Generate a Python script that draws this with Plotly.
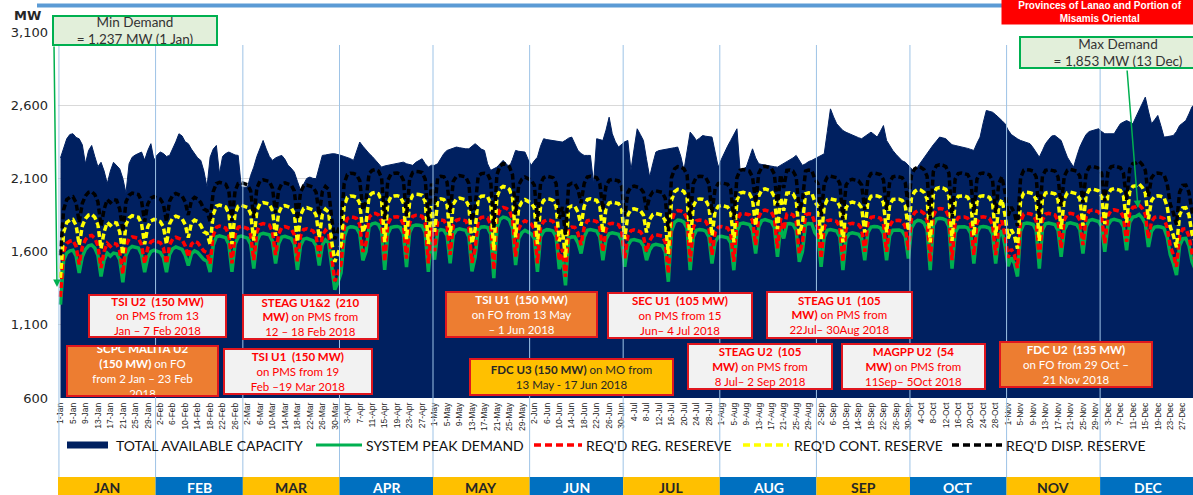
import plotly.graph_objects as go
import pandas as pd

# ---------------- data (daily, 1 Jan 2018 - 31 Dec 2018) ----------------
dates = pd.date_range("2018-01-01", periods=365, freq="D")

total_available_capacity = [
    2240, 2300, 2370, 2400, 2405, 2380, 2370,
    2330, 2200, 2290, 2325, 2250, 2180, 2210,
    2150, 2065, 2150, 2210, 2190, 2165, 2100,
    2000, 2200, 2245, 2260, 2270, 2280, 2225,
    2290, 2337, 2225, 2260, 2280, 2270, 2250,
    2257, 2300, 2350, 2405, 2390, 2350, 2337,
    2300, 2268, 2240, 2223, 2150, 2041, 2245,
    2300, 2325, 2132, 2250, 2270, 2280, 2270,
    2260, 2257, 2041, 2040, 2041, 2120, 2177,
    2250, 2300, 2359, 2300, 2250, 2223, 2240,
    2250, 2257, 2230, 2189, 2170, 2143, 2080,
    2018, 2060, 2100, 2109, 2100, 2098, 2180,
    2257, 2260, 2265, 2268, 2268, 2260, 2257,
    2250, 2245, 2235, 2223, 2280, 2348, 2320,
    2291, 2270, 2250, 2223, 2200, 2177, 2185,
    2189, 2195, 2200, 2205, 2210, 2211, 2200,
    2195, 2189, 2210, 2225, 2234, 2200, 2177,
    2190, 2189, 2200, 2240, 2270, 2291, 2300,
    2310, 2314, 2310, 2305, 2302, 2302, 2320,
    2337, 2320, 2300, 2291, 2200, 2155, 2165,
    2177, 2200, 2223, 2200, 2177, 2230, 2291,
    2285, 2282, 2280, 2230, 2189, 2220, 2245,
    2320, 2371, 2365, 2362, 2359, 2355, 2350,
    2348, 2360, 2375, 2382, 2340, 2291, 2270,
    2257, 2257, 2257, 2064, 2371, 2365, 2359,
    2430, 2518, 2405, 2350, 2314, 2330, 2350,
    2359, 2155, 2300, 2439, 2400, 2359, 2230,
    2109, 2200, 2280, 2290, 2295, 2298, 2302,
    2305, 2310, 2314, 2250, 2155, 2300, 2416,
    2390, 2359, 2375, 2393, 2388, 2385, 2382,
    2280, 2177, 2230, 2280, 2320, 2359, 2400,
    2439, 2155, 2165, 2177, 2240, 2302, 2240,
    2200, 2195, 2190, 2189, 2185, 2180, 2177,
    2190, 2200, 2211, 2225, 2240, 2257, 2220,
    2189, 2200, 2215, 2223, 2234, 2245, 2257,
    2268, 2420, 2575, 2520, 2473, 2450, 2427,
    2415, 2405, 2393, 2385, 2378, 2371, 2385,
    2400, 2416, 2400, 2382, 2420, 2461, 2359,
    2320, 2291, 2265, 2240, 2220, 2211, 2190,
    2165, 2143, 2180, 2211, 2240, 2270, 2302,
    2330, 2355, 2382, 2377, 2371, 2350, 2330,
    2325, 2320, 2317, 2314, 2305, 2298, 2291,
    2340, 2382, 2480, 2564, 2558, 2552, 2535,
    2518, 2495, 2473, 2430, 2400, 2382, 2370,
    2359, 2350, 2345, 2337, 2310, 2280, 2245,
    2290, 2337, 2365, 2390, 2393, 2375, 2359,
    2300, 2245, 2210, 2177, 2250, 2314, 2360,
    2400, 2420, 2427, 2435, 2439, 2420, 2405,
    2405, 2405, 2405, 2440, 2473, 2485, 2495,
    2485, 2473, 2520, 2564, 2610, 2655, 2560,
    2473, 2500, 2530, 2460, 2382, 2385, 2390,
    2393, 2420, 2461, 2478, 2495, 2540, 2590,
    2609,
]

system_peak_demand = [
    1237, 1540, 1590, 1605, 1610, 1570, 1455,
    1565, 1615, 1640, 1645, 1625, 1575, 1430,
    1545, 1590, 1570, 1590, 1585, 1545, 1390,
    1575, 1620, 1635, 1630, 1625, 1580, 1460,
    1560, 1600, 1610, 1605, 1595, 1560, 1460,
    1580, 1620, 1632, 1625, 1615, 1575, 1505,
    1585, 1605, 1595, 1570, 1545, 1535, 1460,
    1645, 1700, 1708, 1702, 1695, 1650, 1462,
    1650, 1700, 1706, 1700, 1692, 1650, 1485,
    1670, 1718, 1725, 1722, 1715, 1670, 1518,
    1655, 1700, 1705, 1700, 1690, 1650, 1475,
    1640, 1685, 1690, 1682, 1675, 1640, 1505,
    1645, 1680, 1660, 1480, 1340, 1390, 1455,
    1700, 1760, 1770, 1768, 1760, 1720, 1540,
    1600, 1770, 1790, 1795, 1785, 1740, 1475,
    1720, 1765, 1770, 1772, 1765, 1722, 1495,
    1730, 1775, 1782, 1780, 1775, 1730, 1462,
    1700, 1545, 1740, 1750, 1746, 1710, 1520,
    1715, 1748, 1755, 1750, 1745, 1700, 1465,
    1560, 1750, 1768, 1770, 1765, 1720, 1418,
    1760, 1820, 1836, 1830, 1815, 1760, 1508,
    1690, 1730, 1745, 1735, 1722, 1690, 1462,
    1700, 1740, 1750, 1748, 1740, 1700, 1480,
    1560, 1370, 1690, 1702, 1700, 1660, 1587,
    1700, 1745, 1750, 1746, 1740, 1700, 1541,
    1685, 1722, 1728, 1725, 1718, 1680, 1496,
    1640, 1677, 1682, 1678, 1670, 1640, 1541,
    1610, 1643, 1650, 1645, 1640, 1600, 1394,
    1740, 1800, 1815, 1812, 1800, 1760, 1473,
    1700, 1745, 1750, 1748, 1740, 1700, 1519,
    1665, 1700, 1705, 1700, 1695, 1660, 1473,
    1740, 1790, 1795, 1792, 1785, 1745, 1587,
    1770, 1812, 1818, 1814, 1805, 1765, 1564,
    1760, 1690, 1790, 1792, 1785, 1745, 1530,
    1600, 1785, 1792, 1790, 1730, 1700, 1496,
    1700, 1745, 1750, 1746, 1740, 1700, 1473,
    1690, 1722, 1728, 1725, 1718, 1690, 1541,
    1730, 1768, 1772, 1770, 1762, 1725, 1541,
    1710, 1746, 1750, 1748, 1740, 1705, 1553,
    1760, 1800, 1814, 1810, 1795, 1750, 1473,
    1780, 1822, 1828, 1825, 1815, 1770, 1484,
    1730, 1768, 1772, 1770, 1762, 1725, 1519,
    1730, 1768, 1772, 1768, 1760, 1720, 1519,
    1700, 1746, 1640, 1500, 1560, 1520, 1430,
    1740, 1790, 1795, 1792, 1785, 1745, 1484,
    1750, 1790, 1795, 1792, 1785, 1745, 1564,
    1750, 1791, 1796, 1792, 1785, 1750, 1587,
    1770, 1812, 1818, 1814, 1805, 1770, 1598,
    1780, 1814, 1820, 1815, 1808, 1770, 1609,
    1800, 1836, 1840, 1853, 1830, 1790, 1632,
    1740, 1768, 1772, 1768, 1760, 1700, 1580,
    1520, 1439, 1640, 1688, 1690, 1640, 1530,
    1480,
]

reqd_reg_reserve = [
    1290, 1598, 1656, 1671, 1676, 1636, 1513,
    1631, 1681, 1706, 1711, 1691, 1641, 1488,
    1603, 1656, 1636, 1656, 1651, 1603, 1448,
    1641, 1686, 1701, 1696, 1691, 1646, 1518,
    1626, 1666, 1676, 1671, 1661, 1626, 1518,
    1646, 1686, 1698, 1691, 1681, 1641, 1563,
    1651, 1671, 1661, 1636, 1603, 1593, 1518,
    1711, 1766, 1774, 1768, 1761, 1716, 1520,
    1716, 1766, 1772, 1766, 1758, 1716, 1543,
    1736, 1784, 1791, 1788, 1781, 1736, 1576,
    1721, 1766, 1771, 1766, 1756, 1716, 1533,
    1706, 1751, 1756, 1748, 1741, 1706, 1563,
    1711, 1746, 1726, 1538, 1398, 1448, 1513,
    1766, 1826, 1836, 1834, 1826, 1786, 1598,
    1658, 1836, 1856, 1861, 1851, 1806, 1533,
    1786, 1831, 1836, 1838, 1831, 1788, 1553,
    1796, 1841, 1848, 1846, 1841, 1796, 1520,
    1766, 1603, 1806, 1816, 1812, 1776, 1578,
    1781, 1814, 1821, 1816, 1811, 1766, 1523,
    1618, 1816, 1834, 1836, 1831, 1786, 1476,
    1826, 1886, 1902, 1896, 1881, 1826, 1566,
    1756, 1796, 1811, 1801, 1788, 1756, 1520,
    1766, 1806, 1816, 1814, 1806, 1766, 1538,
    1618, 1428, 1756, 1768, 1766, 1726, 1645,
    1766, 1811, 1816, 1812, 1806, 1766, 1599,
    1751, 1788, 1794, 1791, 1784, 1746, 1554,
    1706, 1743, 1748, 1744, 1736, 1706, 1599,
    1676, 1709, 1716, 1711, 1706, 1666, 1452,
    1806, 1866, 1881, 1878, 1866, 1826, 1531,
    1766, 1811, 1816, 1814, 1806, 1766, 1577,
    1731, 1766, 1771, 1766, 1761, 1726, 1531,
    1806, 1856, 1861, 1858, 1851, 1811, 1645,
    1836, 1878, 1884, 1880, 1871, 1831, 1622,
    1826, 1748, 1856, 1858, 1851, 1811, 1588,
    1658, 1851, 1858, 1856, 1796, 1766, 1554,
    1766, 1811, 1816, 1812, 1806, 1766, 1531,
    1756, 1788, 1794, 1791, 1784, 1756, 1599,
    1796, 1834, 1838, 1836, 1828, 1791, 1599,
    1776, 1812, 1816, 1814, 1806, 1771, 1611,
    1826, 1866, 1880, 1876, 1861, 1816, 1531,
    1846, 1888, 1894, 1891, 1881, 1836, 1542,
    1796, 1834, 1838, 1836, 1828, 1791, 1577,
    1796, 1834, 1838, 1834, 1826, 1786, 1577,
    1766, 1812, 1706, 1558, 1618, 1578, 1488,
    1806, 1856, 1861, 1858, 1851, 1811, 1542,
    1816, 1856, 1861, 1858, 1851, 1811, 1622,
    1816, 1857, 1862, 1858, 1851, 1816, 1645,
    1836, 1878, 1884, 1880, 1871, 1836, 1656,
    1846, 1880, 1886, 1881, 1874, 1836, 1667,
    1866, 1902, 1906, 1919, 1896, 1856, 1690,
    1806, 1834, 1838, 1834, 1826, 1766, 1638,
    1578, 1497, 1706, 1754, 1756, 1706, 1588,
    1538,
]

reqd_cont_reserve = [
    1420, 1730, 1800, 1815, 1820, 1780, 1645,
    1775, 1825, 1850, 1855, 1835, 1785, 1620,
    1735, 1800, 1780, 1800, 1795, 1735, 1580,
    1785, 1830, 1845, 1840, 1835, 1790, 1650,
    1770, 1810, 1820, 1815, 1805, 1770, 1650,
    1790, 1830, 1842, 1835, 1825, 1785, 1695,
    1795, 1815, 1805, 1780, 1735, 1725, 1650,
    1855, 1910, 1918, 1912, 1905, 1860, 1652,
    1860, 1910, 1916, 1910, 1902, 1860, 1675,
    1880, 1928, 1935, 1932, 1925, 1880, 1708,
    1865, 1910, 1915, 1910, 1900, 1860, 1665,
    1850, 1895, 1900, 1892, 1885, 1850, 1695,
    1855, 1890, 1870, 1670, 1530, 1580, 1645,
    1910, 1970, 1980, 1978, 1970, 1930, 1730,
    1790, 1980, 2000, 2005, 1995, 1950, 1665,
    1930, 1975, 1980, 1982, 1975, 1932, 1685,
    1940, 1985, 1992, 1990, 1985, 1940, 1652,
    1910, 1735, 1950, 1960, 1956, 1920, 1710,
    1925, 1958, 1965, 1960, 1955, 1910, 1655,
    1750, 1960, 1978, 1980, 1975, 1930, 1608,
    1970, 2030, 2046, 2040, 2025, 1970, 1698,
    1900, 1940, 1955, 1945, 1932, 1900, 1652,
    1910, 1950, 1960, 1958, 1950, 1910, 1670,
    1750, 1560, 1900, 1912, 1910, 1870, 1777,
    1910, 1955, 1960, 1956, 1950, 1910, 1731,
    1895, 1932, 1938, 1935, 1928, 1890, 1686,
    1850, 1887, 1892, 1888, 1880, 1850, 1731,
    1820, 1853, 1860, 1855, 1850, 1810, 1584,
    1950, 2010, 2025, 2022, 2010, 1970, 1663,
    1910, 1955, 1960, 1958, 1950, 1910, 1709,
    1875, 1910, 1915, 1910, 1905, 1870, 1663,
    1950, 2000, 2005, 2002, 1995, 1955, 1777,
    1980, 2022, 2028, 2024, 2015, 1975, 1754,
    1970, 1880, 2000, 2002, 1995, 1955, 1720,
    1790, 1995, 2002, 2000, 1940, 1910, 1686,
    1910, 1955, 1960, 1956, 1950, 1910, 1663,
    1900, 1932, 1938, 1935, 1928, 1900, 1731,
    1940, 1978, 1982, 1980, 1972, 1935, 1731,
    1920, 1956, 1960, 1958, 1950, 1915, 1743,
    1970, 2010, 2024, 2020, 2005, 1960, 1663,
    1990, 2032, 2038, 2035, 2025, 1980, 1674,
    1940, 1978, 1982, 1980, 1972, 1935, 1709,
    1940, 1978, 1982, 1978, 1970, 1930, 1709,
    1910, 1956, 1850, 1690, 1750, 1710, 1620,
    1950, 2000, 2005, 2002, 1995, 1955, 1674,
    1960, 2000, 2005, 2002, 1995, 1955, 1754,
    1960, 2001, 2006, 2002, 1995, 1960, 1777,
    1980, 2022, 2028, 2024, 2015, 1980, 1788,
    1990, 2024, 2030, 2025, 2018, 1980, 1799,
    2010, 2046, 2050, 2063, 2040, 2000, 1822,
    1950, 1978, 1982, 1978, 1970, 1910, 1770,
    1710, 1629, 1850, 1898, 1900, 1850, 1720,
    1670,
]

reqd_disp_reserve = [
    1575, 1885, 1955, 1970, 1975, 1935, 1800,
    1930, 1980, 2005, 2010, 1990, 1940, 1775,
    1890, 1955, 1935, 1955, 1950, 1890, 1735,
    1940, 1985, 2000, 1995, 1990, 1945, 1805,
    1925, 1965, 1975, 1970, 1960, 1925, 1805,
    1945, 1985, 1997, 1990, 1980, 1940, 1850,
    1950, 1970, 1960, 1935, 1890, 1880, 1805,
    2010, 2065, 2073, 2067, 2060, 2015, 1807,
    2015, 2065, 2071, 2065, 2057, 2015, 1830,
    2035, 2083, 2090, 2087, 2080, 2035, 1863,
    2020, 2065, 2070, 2065, 2055, 2015, 1820,
    2005, 2050, 2055, 2047, 2040, 2005, 1850,
    2010, 2045, 2025, 1825, 1685, 1735, 1800,
    2065, 2125, 2135, 2133, 2125, 2085, 1885,
    1945, 2135, 2155, 2160, 2150, 2105, 1820,
    2085, 2130, 2135, 2137, 2130, 2087, 1840,
    2095, 2140, 2147, 2145, 2140, 2095, 1807,
    2065, 1890, 2105, 2115, 2111, 2075, 1865,
    2080, 2113, 2120, 2115, 2110, 2065, 1810,
    1905, 2115, 2133, 2135, 2130, 2085, 1763,
    2125, 2185, 2201, 2195, 2180, 2125, 1853,
    2055, 2095, 2110, 2100, 2087, 2055, 1807,
    2065, 2105, 2115, 2113, 2105, 2065, 1825,
    1905, 1715, 2055, 2067, 2065, 2025, 1932,
    2065, 2110, 2115, 2111, 2105, 2065, 1886,
    2050, 2087, 2093, 2090, 2083, 2045, 1841,
    2005, 2042, 2047, 2043, 2035, 2005, 1886,
    1975, 2008, 2015, 2010, 2005, 1965, 1739,
    2105, 2165, 2180, 2177, 2165, 2125, 1818,
    2065, 2110, 2115, 2113, 2105, 2065, 1864,
    2030, 2065, 2070, 2065, 2060, 2025, 1818,
    2105, 2155, 2160, 2157, 2150, 2110, 1932,
    2135, 2177, 2183, 2179, 2170, 2130, 1909,
    2125, 2035, 2155, 2157, 2150, 2110, 1875,
    1945, 2150, 2157, 2155, 2095, 2065, 1841,
    2065, 2110, 2115, 2111, 2105, 2065, 1818,
    2055, 2087, 2093, 2090, 2083, 2055, 1886,
    2095, 2133, 2137, 2135, 2127, 2090, 1886,
    2075, 2111, 2115, 2113, 2105, 2070, 1898,
    2125, 2165, 2179, 2175, 2160, 2115, 1818,
    2145, 2187, 2193, 2190, 2180, 2135, 1829,
    2095, 2133, 2137, 2135, 2127, 2090, 1864,
    2095, 2133, 2137, 2133, 2125, 2085, 1864,
    2065, 2111, 2005, 1845, 1905, 1865, 1775,
    2105, 2155, 2160, 2157, 2150, 2110, 1829,
    2115, 2155, 2160, 2157, 2150, 2110, 1909,
    2115, 2156, 2161, 2157, 2150, 2115, 1932,
    2135, 2177, 2183, 2179, 2170, 2135, 1943,
    2145, 2179, 2185, 2180, 2173, 2135, 1954,
    2165, 2201, 2205, 2218, 2195, 2155, 1977,
    2105, 2133, 2137, 2133, 2125, 2065, 1925,
    1865, 1784, 2005, 2053, 2055, 2005, 1875,
    1825,
]

y_tick_values = [600, 1100, 1600, 2100, 2600, 3100]
month_names = ["JAN", "FEB", "MAR", "APR", "MAY", "JUN",
               "JUL", "AUG", "SEP", "OCT", "NOV", "DEC"]
month_starts = pd.date_range("2018-01-01", periods=13, freq="MS")

legend_labels = ["TOTAL AVAILABLE CAPACITY", "SYSTEM PEAK DEMAND",
                 "REQ'D REG. RESEREVE", "REQ'D CONT. RESERVE", "REQ'D DISP. RESERVE"]

# ---------------- geometry helpers ----------------
W, H = 1193, 495
L, R, T, B = 58, 1193, 32, 398


def px(x):
    return (x - L) / (R - L)


def py(y):
    return (B - y) / (B - T)


x_start = pd.Timestamp("2018-01-01") - pd.Timedelta(hours=19.2)
x_end = pd.Timestamp("2018-12-30") + pd.Timedelta(hours=7.2)

NAVY = "#002060"
GREEN = "#00B050"
RED = "#FF0000"
YELLOW = "#FFFF00"
BLACK = "#000000"
FONT = "Lato, Liberation Sans, sans-serif"

fig = go.Figure()
fig.add_trace(go.Scatter(x=dates, y=total_available_capacity, mode="lines",
                         fill="tozeroy", fillcolor=NAVY,
                         line=dict(color=NAVY, width=1),
                         name=legend_labels[0], showlegend=False))
fig.add_trace(go.Scatter(x=dates, y=system_peak_demand, mode="lines",
                         line=dict(color=GREEN, width=3.5),
                         name=legend_labels[1], showlegend=False))
fig.add_trace(go.Scatter(x=dates, y=reqd_reg_reserve, mode="lines",
                         line=dict(color=RED, width=3.5, dash="6px,3px"),
                         name=legend_labels[2], showlegend=False))
fig.add_trace(go.Scatter(x=dates, y=reqd_cont_reserve, mode="lines",
                         line=dict(color=YELLOW, width=3.5, dash="6px,3px"),
                         name=legend_labels[3], showlegend=False))
fig.add_trace(go.Scatter(x=dates, y=reqd_disp_reserve, mode="lines",
                         line=dict(color=BLACK, width=3.5, dash="6px,3px"),
                         name=legend_labels[4], showlegend=False))

shapes = []
annotations = []

# month separator lines
for i in range(12):
    xm = month_starts[i] - pd.Timedelta(hours=12)
    shapes.append(dict(type="line", xref="x", yref="paper", x0=xm, x1=xm,
                       y0=py(477), y1=py(45), line=dict(color="#9DC3E6", width=1),
                       layer="above"))

# month bar
for i in range(12):
    x0 = x_start if i == 0 else month_starts[i] - pd.Timedelta(hours=12)
    x1 = month_starts[i + 1] - pd.Timedelta(hours=12)
    gold = (i % 2 == 0)
    shapes.append(dict(type="rect", xref="x", yref="paper", x0=x0, x1=x1,
                       y0=py(496), y1=py(477), line=dict(width=0),
                       fillcolor="#FFC000" if gold else "#0070C0"))
    xc = month_starts[i] + (month_starts[i + 1] - month_starts[i]) / 2 - pd.Timedelta(hours=12)
    annotations.append(dict(x=xc, y=py(487), xref="x", yref="paper", showarrow=False,
                            text="<b>%s</b>" % month_names[i],
                            font=dict(family=FONT, size=14,
                                      color="#262626" if gold else "#FFFFFF"),
                            xanchor="center", yanchor="middle"))

# top blue rule
shapes.append(dict(type="line", xref="paper", yref="paper", x0=px(37), x1=px(1005),
                   y0=py(5.5), y1=py(5.5), line=dict(color="#5B9BD5", width=4)))

# custom legend
leg_y = py(445)
leg_items = [
    (67, 108, NAVY, 7, "solid", 114),
    (316, 362, GREEN, 3, "solid", 364),
    (534, 582, RED, 3.5, "7px,4px", 584),
    (743, 789, YELLOW, 3.5, "7px,4px", 792),
    (952, 1002, BLACK, 3.5, "7px,4px", 1004),
]
for (a, b, col, w, dash, tx), lab in zip(leg_items, legend_labels):
    shapes.append(dict(type="line", xref="paper", yref="paper", x0=px(a), x1=px(b),
                       y0=leg_y, y1=leg_y, line=dict(color=col, width=w, dash=dash)))
    annotations.append(dict(x=px(tx), y=leg_y, xref="paper", yref="paper", showarrow=False,
                            text=lab, xanchor="left", yanchor="middle",
                            font=dict(family=FONT, size=14, color="#111111")))

# MW label
annotations.append(dict(x=px(27), y=py(15), xref="paper", yref="paper", showarrow=False,
                        text="<b>MW</b>", xanchor="center", yanchor="middle",
                        font=dict(family="DejaVu Sans", size=13, color="#262626")))

# red header box at the top-right corner
annotations.append(dict(x=px(1100), y=py(11.5), xref="paper", yref="paper", showarrow=False,
                        text="<b>Provinces of Lanao and Portion of<br>Misamis Oriental</b>",
                        xanchor="center", yanchor="middle", width=196, align="center",
                        bgcolor="#FF0000", borderpad=0,
                        font=dict(family="Liberation Sans", size=10, color="#FFFFFF")))

# min / max demand call-outs
annotations.append(dict(x=px(135), y=py(30.5), xref="paper", yref="paper", showarrow=False,
                        text="Min Demand<br>= 1,237 MW (1 Jan)", align="center",
                        xanchor="center", yanchor="middle", width=162, height=27,
                        bgcolor="#E2EFDA", bordercolor=GREEN, borderwidth=2, borderpad=0,
                        font=dict(family=FONT, size=13.5, color="#333333")))
annotations.append(dict(x=px(57), y=py(287), xref="paper", yref="paper", text="",
                        showarrow=True, ax=-3, ay=-242, arrowcolor=GREEN,
                        arrowwidth=1.5, arrowhead=2, arrowsize=1))
annotations.append(dict(x=px(1118), y=py(53), xref="paper", yref="paper", showarrow=False,
                        text="Max Demand<br>= 1,853 MW (13 Dec)", align="center",
                        xanchor="center", yanchor="middle", width=194, height=29,
                        bgcolor="#E2EFDA", bordercolor=GREEN, borderwidth=2, borderpad=0,
                        font=dict(family=FONT, size=13.5, color="#333333")))
annotations.append(dict(x=px(1138), y=py(208), xref="paper", yref="paper", text="",
                        showarrow=True, ax=-11, ay=-139, arrowcolor=GREEN,
                        arrowwidth=1.5, arrowhead=2, arrowsize=1))

# outage boxes
GRAY_BOX = ("#F2F2F2", "#FF0000")
ORANGE_BOX = ("#ED7D31", "#FFFFFF")
GOLD_BOX = ("#FFC000", "#262626")
boxes = [
    (89, 295, 226, 337, GRAY_BOX, "<b>TSI U2  (150 MW)</b><br>on PMS from 13<br>Jan – 7 Feb 2018"),
    (243, 295, 378, 339, GRAY_BOX, "<b>STEAG U1&amp;2  (210</b><br><b>MW)</b> on PMS from<br>12 – 18 Feb 2018"),
    (67, 346, 218, 396, ORANGE_BOX, "<b>SCPC MALITA U2</b><br><b>(150 MW)</b> on FO<br>from 2 Jan – 23 Feb<br>2018"),
    (224, 349, 372, 394, GRAY_BOX, "<b>TSI U1  (150 MW)</b><br>on PMS from 19<br>Feb –19 Mar 2018"),
    (446, 292, 597, 337, ORANGE_BOX, "<b>TSI U1  (150 MW)</b><br>on FO from 13 May<br>– 1 Jun 2018"),
    (608, 293, 752, 338, GRAY_BOX, "<b>SEC U1  (105 MW)</b><br>on PMS from 15<br>Jun– 4 Jul 2018"),
    (767, 292, 912, 338, GRAY_BOX, "<b>STEAG U1  (105</b><br><b>MW)</b> on PMS from<br>22Jul– 30Aug 2018"),
    (470, 359, 673, 395, GOLD_BOX, "<b>FDC U3 (150 MW)</b> on MO from<br>13 May - 17 Jun 2018"),
    (688, 344, 832, 389, GRAY_BOX, "<b>STEAG U2  (105</b><br><b>MW)</b> on PMS from<br>8 Jul– 2 Sep 2018"),
    (842, 344, 985, 389, GRAY_BOX, "<b>MAGPP U2  (54</b><br><b>MW)</b> on PMS from<br>11Sep– 5Oct 2018"),
    (1000, 342, 1152, 387, ORANGE_BOX, "<b>FDC U2  (135 MW)</b><br>on FO from 29 Oct –<br>21 Nov 2018"),
]
for x0, y0, x1, y1, (fill, fc), txt in boxes:
    annotations.append(dict(x=px((x0 + x1) / 2), y=py((y0 + y1) / 2), xref="paper", yref="paper",
                            showarrow=False, text=txt, align="center",
                            xanchor="center", yanchor="middle",
                            width=x1 - x0 - 2, height=y1 - y0 - 2,
                            bgcolor=fill, bordercolor="#E0161E", borderwidth=2, borderpad=0,
                            font=dict(family=FONT, size=11.5, color=fc)))

fig.update_layout(
    width=W, height=H,
    margin=dict(l=L, r=W - R, t=T, b=H - B),
    paper_bgcolor="#FFFFFF", plot_bgcolor="#FFFFFF",
    showlegend=False,
    shapes=shapes, annotations=annotations,
    xaxis=dict(type="date", range=[x_start, x_end], tick0="2018-01-01",
               dtick=4 * 24 * 3600 * 1000, tickformat="%-d-%b", tickangle=-90,
               showgrid=False, zeroline=False, showline=False, ticks="",
               ticklabelstandoff=2,
               tickfont=dict(family="Liberation Sans", size=8.5, color="#262626")),
    yaxis=dict(range=[600, 3100], tickvals=y_tick_values,
               ticktext=["{:,}".format(v) for v in y_tick_values],
               showgrid=True, gridcolor="#D9D9D9", gridwidth=1,
               zeroline=False, showline=False, ticks="", ticklabelstandoff=9,
               tickfont=dict(family="DejaVu Sans", size=13, color="#262626")),
)

assert len(total_available_capacity) == 365
assert len(system_peak_demand) == 365
assert len(reqd_reg_reserve) == 365
assert len(reqd_cont_reserve) == 365
assert len(reqd_disp_reserve) == 365

fig.write_html("out.html")
